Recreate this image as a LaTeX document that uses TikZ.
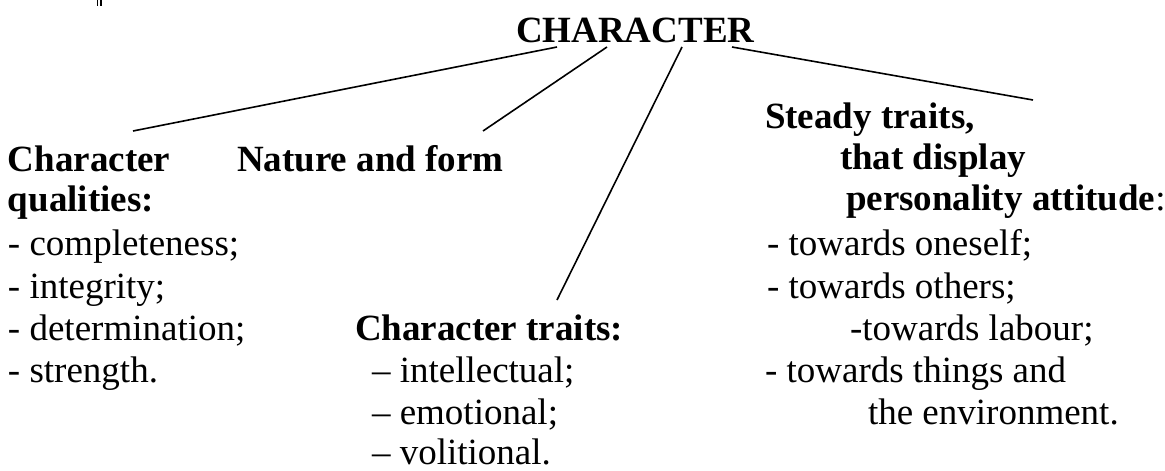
\documentclass[tikz,border=0pt]{standalone}
\usepackage{fontspec}
\setmainfont{Liberation Serif}
\begin{document}
\begin{tikzpicture}[x=1pt,y=-1pt,
  txt/.style={anchor=base west, inner sep=0pt, outer sep=0pt,
    font=\fontsize{37}{41}\selectfont},
  head/.style={txt, font=\fontsize{37}{41}\selectfont\bfseries},
  link/.style={line width=1.6pt}]
\useasboundingbox (0,0) rectangle (1165,471);

% small double tick at the top
\fill (96.7,0) rectangle (98.3,6);
\fill (100,0) rectangle (101.7,6);

% root
\node[head] (root) at (516,42) {CHARACTER};

% left column: qualities
\node[head] (cq1) at (8,171) {Character};
\node[head] (cq2) at (8,211) {qualities:};
\node[txt] (cqa) at (8,255) {- completeness;};
\node[txt] (cqb) at (8,298) {- integrity;};
\node[txt] (cqc) at (8,340) {- determination;};
\node[txt] (cqd) at (8,382) {- strength.};

% nature and form
\node[head] (nf) at (237,171) {Nature and form};

% middle column: traits
\node[head] (ct) at (355,340) {Character traits:};
\node[txt] (cta) at (372,382) {– intellectual;};
\node[txt] (ctb) at (372,424) {– emotional;};
\node[txt] (ctc) at (372,464) {– volitional.};

% right column: attitudes
\node[head] (st1) at (765,128) {Steady traits,};
\node[head] (st2) at (840,169) {that display};
\node[txt] (st3) at (846,210) {\textbf{personality attitude}:};
\node[txt] (sta) at (767,255) {- towards oneself;};
\node[txt] (stb) at (767,298) {- towards others;};
\node[txt] (stc) at (850,340) {-towards labour;};
\node[txt] (std) at (765,382) {- towards things and};
\node[txt] (ste) at (868,424) {the environment.};

% connector ends
\coordinate (r1) at (557,47);
\coordinate (r2) at (607,47);
\coordinate (r3) at (682,47);
\coordinate (r4) at (732,47);
\coordinate (e1) at (133,131);
\coordinate (e2) at (483,131);
\coordinate (e3) at (557,300);
\coordinate (e4) at (1033,100);

\draw[link] (r1) -- (e1);
\draw[link] (r2) -- (e2);
\draw[link] (r3) -- (e3);
\draw[link] (r4) -- (e4);
\end{tikzpicture}
\end{document}
